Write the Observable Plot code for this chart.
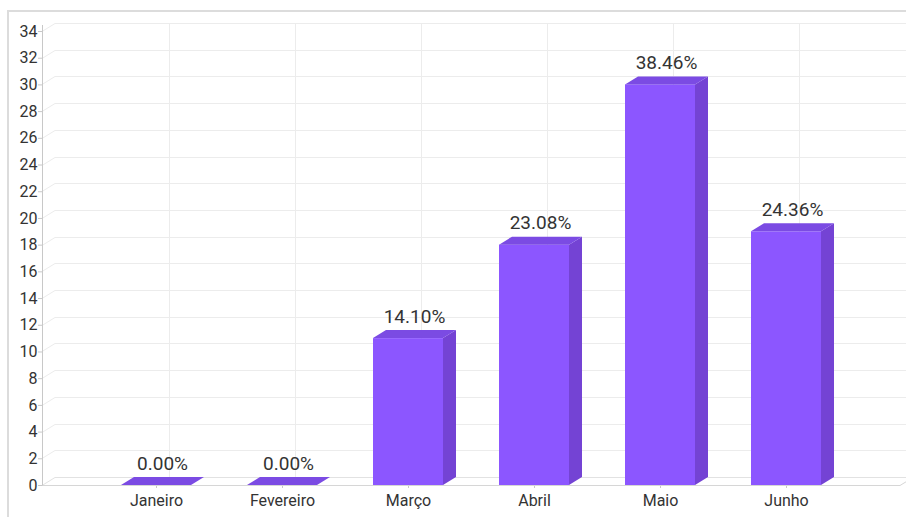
<!DOCTYPE html>
<html><head><meta charset="utf-8">
<script src="https://cdn.jsdelivr.net/npm/d3@7"></script>
<script src="https://cdn.jsdelivr.net/npm/@observablehq/plot@0.6"></script>
<style>
html,body{margin:0;padding:0;background:#fff;overflow:hidden;width:906px;height:517px}
#card{position:absolute;left:7px;top:10px;width:960px;height:600px;border:2px solid #dcdcdc;box-sizing:border-box}
#chart{position:absolute;left:0;top:0}
</style></head><body><div id="card"></div><div id="chart"></div>
<script>
const months = ["Janeiro","Fevereiro","Março","Abril","Maio","Junho"];
const counts = [0, 0, 11, 18, 30, 19];
const percentLabels = ["0.00%","0.00%","14.10%","23.08%","38.46%","24.36%"];
const yTicks = [0,2,4,6,8,10,12,14,16,18,20,22,24,26,28,30,32,34];

const data = months.map((m, i) => ({month: m, value: counts[i], label: percentLabels[i]}));
const DX = 13, DY = 8;
const colors = {front: "#8c56ff", side: "#7443d4", top: "#7b4be3", grid: "#ececec", axis: "#c8c8c8", text: "#333"};

function backGrid(index, scales, values, dims) {
  const {x, y} = scales;
  const g = d3.create("svg:g").attr("fill", "none").attr("stroke-width", 1);
  const L = dims.marginLeft, R = dims.width - dims.marginRight;
  const bw = x.bandwidth();
  const yTop = Math.round(y(d3.max(yTicks))) + 0.5 - DY;
  const yBot = Math.round(y(0)) + 0.5 - DY;
  for (const m of months) {
    const xx = Math.round(x(m) + bw / 2 + DX) + 0.5;
    g.append("line").attr("stroke", colors.grid).attr("x1", xx).attr("x2", xx).attr("y1", yTop).attr("y2", yBot);
  }
  for (const t of yTicks) {
    const yy = Math.round(y(t)) + 0.5;
    g.append("path").attr("stroke", t === 0 ? "#e2e2e2" : colors.grid)
      .attr("d", `M${L},${yy}L${L + DX},${yy - DY}L${R + DX},${yy - DY}`);
  }
  const y0 = Math.round(y(0)) + 0.5;
  g.append("path").attr("stroke", "#d6d6d6").attr("d", `M${L},${y0}L${R},${y0}L${R + DX},${y0 - DY}`);
  g.append("line").attr("stroke", colors.axis).attr("x1", L + 0.5).attr("x2", L + 0.5)
    .attr("y1", Math.round(y(d3.max(yTicks))) - 6).attr("y2", y0);
  return g.node();
}

function bars3d(index, scales) {
  const {x, y} = scales;
  const bw = x.bandwidth();
  const y0 = y(0);
  const g = d3.create("svg:g");
  for (const d of data) {
    const x0 = x(d.month), x1 = x0 + bw, yv = y(d.value);
    if (d.value > 0) {
      g.append("path").attr("fill", colors.side)
        .attr("d", `M${x1},${y0}L${x1 + DX},${y0 - DY}L${x1 + DX},${yv - DY}L${x1},${yv}Z`);
    }
    g.append("path").attr("fill", colors.top)
      .attr("d", `M${x0},${yv}L${x0 + DX},${yv - DY}L${x1 + DX},${yv - DY}L${x1},${yv}Z`);
  }
  return g.node();
}

const chart = Plot.plot({
  width: 906,
  height: 517,
  marginLeft: 42,
  marginRight: 6,
  marginTop: 31,
  marginBottom: 32,
  style: {fontFamily: "Roboto, sans-serif", fontSize: "16px", color: colors.text, background: "transparent"},
  x: {domain: months, paddingInner: 0.446, paddingOuter: 0.619, label: null, tickSize: 3, tickPadding: 6},
  y: {domain: [0, 34], ticks: yTicks, tickFormat: d => String(d), label: null, tickSize: 4, tickPadding: 1},
  marks: [
    backGrid,
    Plot.barY(data, {x: "month", y: "value", fill: colors.front}),
    bars3d,
    Plot.text(data, {x: "month", y: "value", text: "label", dx: 6, dy: -16, lineAnchor: "bottom",
      fontSize: 19, fill: colors.text})
  ]
});
d3.select(chart).selectAll("g[aria-label='x-axis tick'] path, g[aria-label='y-axis tick'] path, g[aria-label='x-axis'] path, g[aria-label='y-axis'] path")
  .attr("stroke", colors.axis);
document.getElementById("chart").appendChild(chart);
</script>
</body></html>
